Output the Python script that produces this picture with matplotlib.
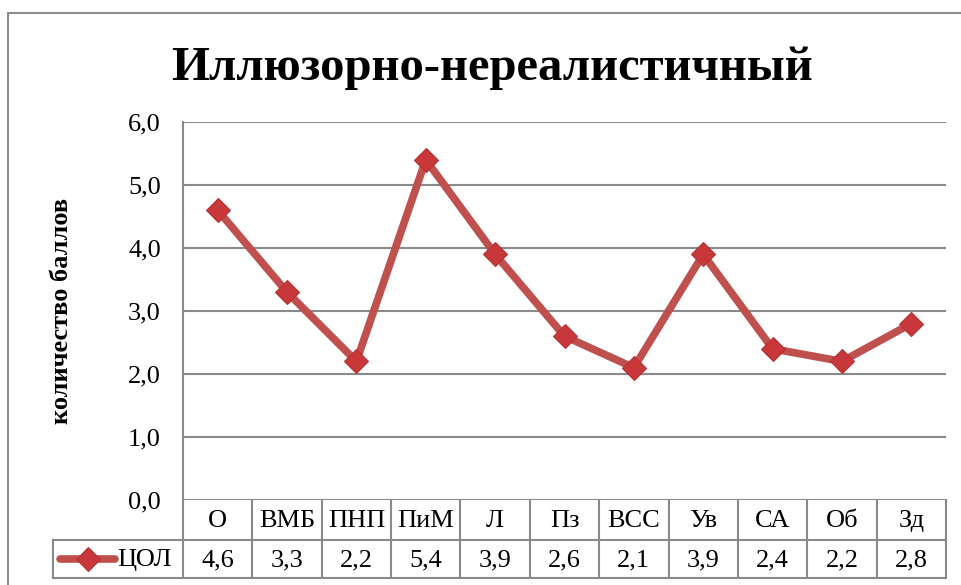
import matplotlib
matplotlib.use("Agg")
import matplotlib.pyplot as plt
import matplotlib.transforms as mtransforms
from matplotlib.lines import Line2D
from matplotlib.patches import Rectangle

categories = ["О", "ВМБ", "ПНП", "ПиМ", "Л", "Пз", "ВСС", "Ув", "СА", "Об", "Зд"]
values = [4.6, 3.3, 2.2, 5.4, 3.9, 2.6, 2.1, 3.9, 2.4, 2.2, 2.8]
series_name = "ЦОЛ"
yticks = [0, 1, 2, 3, 4, 5, 6]
title = "Иллюзорно-нереалистичный"
ylabel = "количество баллов"

plt.rcParams['font.family'] = ['Liberation Serif', 'DejaVu Serif']

W, H = 961, 585
fig = plt.figure(figsize=(W / 100, H / 100), dpi=100)

def fx(px):
    return px / W

def fy(py):
    return 1 - py / H

# outer chart border
fig.add_artist(Rectangle((fx(8), fy(700)), fx(1100), fy(13) - fy(700),
                         transform=fig.transFigure, fill=False,
                         edgecolor='#8c8c8c', linewidth=1.5))

left, right, top, bottom = 183, 946, 122, 500
ax = fig.add_axes([fx(left), fy(bottom), fx(right) - fx(left), fy(top) - fy(bottom)])

grid_c = '#8a8a8a'
n = len(categories)
xs = list(range(n))
ax.set_xlim(-0.5, n - 0.5)
ax.set_ylim(0, 6)
ax.set_yticks(yticks)
ax.set_yticklabels([f"{v:.1f}".replace('.', ',') for v in yticks], fontsize=19)
ax.tick_params(axis='y', length=0, pad=16)
ax.set_xticks([])
for s in ['top', 'right', 'bottom']:
    ax.spines[s].set_visible(False)
ax.spines['left'].set_color(grid_c)
ax.spines['left'].set_linewidth(1.5)
for v in yticks:
    ax.axhline(v, color=grid_c, linewidth=1.5, zorder=1)

ax.plot(xs, values, color='#C0504D', linewidth=5.5, marker='D', markersize=12.5,
        markerfacecolor='#C8383A', markeredgecolor='#B53334', markeredgewidth=0.8,
        zorder=3, solid_joinstyle='round')

ax.set_ylabel(ylabel, fontsize=19, fontweight='bold')
ax.yaxis.set_label_coords((73 - left) / (right - left), 0.5)

fig.text(fx(492), fy(80), title, fontsize=35, fontweight='bold', ha='center', va='baseline')

# data table
trans = mtransforms.blended_transform_factory(ax.transData, ax.transAxes)
ph = bottom - top

def ay(py):
    return (bottom - py) / ph

row1_top, row2_top, row2_bot = 500, 540, 578
tc = '#8a8a8a'
tlw = 1.5
for yy, x0 in [(row2_top, 53), (row2_bot, 53)]:
    ax.add_line(Line2D([(x0 - left) / (right - left), 1], [ay(yy), ay(yy)],
                       transform=ax.transAxes, color=tc, linewidth=tlw, clip_on=False))
for i in range(n + 1):
    xb = i - 0.5
    ax.add_line(Line2D([xb, xb], [ay(row1_top), ay(row2_bot)], transform=trans,
                       color=tc, linewidth=tlw, clip_on=False))
ax.add_line(Line2D([(53 - left) / (right - left)] * 2, [ay(row2_top), ay(row2_bot)],
                   transform=ax.transAxes, color=tc, linewidth=tlw, clip_on=False))

for i, (c, v) in enumerate(zip(categories, values)):
    ax.text(i, ay(521), c, transform=trans, ha='center', va='center', fontsize=19, clip_on=False)
    ax.text(i, ay(560), f"{v:.1f}".replace('.', ','), transform=trans, ha='center',
            va='center', fontsize=19, clip_on=False)

# legend key
kx0, kx1 = (60 - left) / (right - left), (115 - left) / (right - left)
ax.add_line(Line2D([kx0, kx1], [ay(559), ay(559)], transform=ax.transAxes,
                   color='#C0504D', linewidth=5.5, clip_on=False, solid_capstyle='round'))
ax.add_line(Line2D([(kx0 + kx1) / 2], [ay(559)], transform=ax.transAxes, marker='D',
                   markersize=12, markerfacecolor='#C8383A', markeredgecolor='#B53334',
                   markeredgewidth=0.8, linestyle='none', clip_on=False))
ax.text((117 - left) / (right - left), ay(560), series_name, transform=ax.transAxes,
        ha='left', va='center', fontsize=19, clip_on=False)

fig.savefig("out.png", dpi=100)
